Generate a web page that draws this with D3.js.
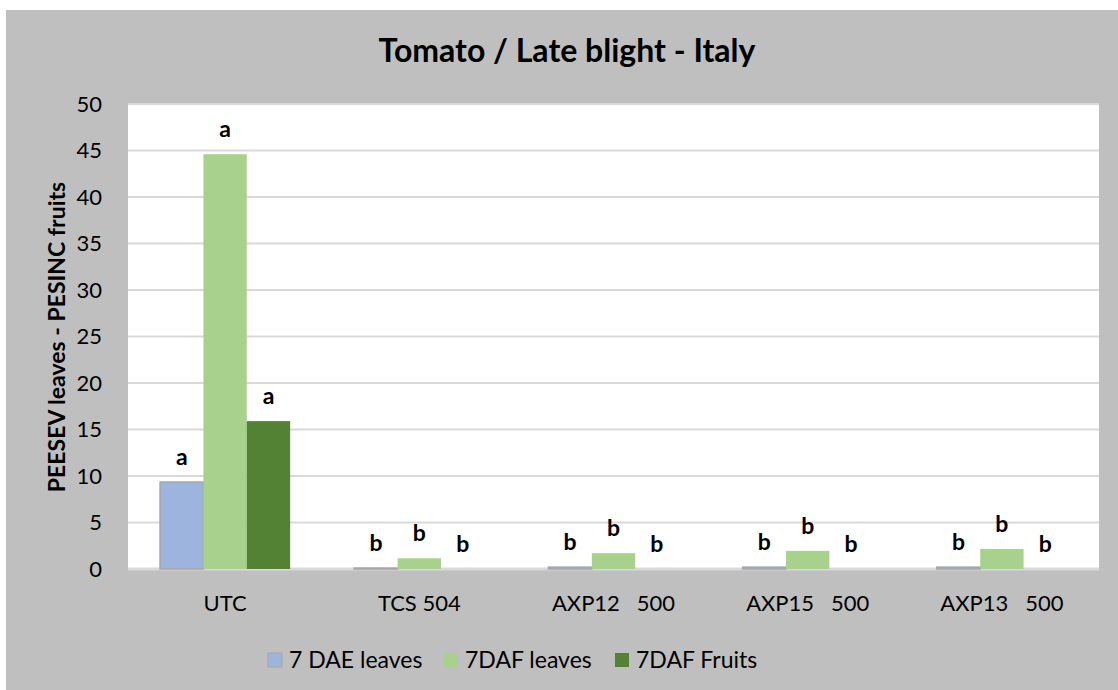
<!DOCTYPE html>
<html>
<head>
<meta charset="utf-8">
<script src="https://cdn.jsdelivr.net/npm/d3@7"></script>
<style>
  body { margin: 0; background: #fff; }
  text { font-family: Lato, "Open Sans", sans-serif; fill: #000; }
</style>
</head>
<body>
<script>
// chart data
let categories = ["UTC", "TCS 504", "AXP12   500", "AXP15   500", "AXP13   500"]
let seriesNames = ["7 DAE leaves", "7DAF leaves", "7DAF Fruits"]
let daeLeaves = [9.35, 0.1, 0.2, 0.2, 0.2]
let dafLeaves = [44.6, 1.15, 1.7, 1.95, 2.15]
let dafFruits = [15.9, 0, 0, 0, 0]
let daeLetters = ["a", "b", "b", "b", "b"]
let dafLeavesLetters = ["a", "b", "b", "b", "b"]
let dafFruitsLetters = ["a", "b", "b", "b", "b"]
let yTicks = [0, 5, 10, 15, 20, 25, 30, 35, 40, 45, 50]

let colors = ["#9cb4de", "#a9d18e", "#548235"]
let width = 1118
let height = 690

// plot area (white part)
let plotLeft = 128, plotRight = 1099, plotTop = 104, plotBottom = 569

let svg = d3.select("body").append("svg")
    .attr("width", width)
    .attr("height", height)

// gray chart background
svg.append("rect")
    .attr("x", 6).attr("y", 10)
    .attr("width", width - 6).attr("height", height - 10)
    .attr("fill", "#bfbfbf")

svg.append("rect")
    .attr("x", plotLeft).attr("y", plotTop)
    .attr("width", plotRight - plotLeft).attr("height", plotBottom - plotTop)
    .attr("fill", "#fff")

let x = d3.scaleBand()
    .domain(categories)
    .range([plotLeft, plotRight])
    .paddingInner(0.33)
    .paddingOuter(0.165)

let xs = d3.scaleBand()
    .domain(seriesNames)
    .range([0, x.bandwidth()])

let y = d3.scaleLinear()
    .domain([0, 50])
    .range([plotBottom, plotTop])

// gridlines
svg.append("g").selectAll("line")
    .data(yTicks)
    .enter()
    .append("line")
    .attr("x1", plotLeft).attr("x2", plotRight)
    .attr("y1", d => y(d)).attr("y2", d => y(d))
    .attr("stroke", "#d9d9d9")
    .attr("stroke-width", d => d == 0 ? 3 : 2)

// y axis labels
let yAxis = d3.axisLeft(y).tickValues(yTicks).tickSize(0).tickPadding(12)
let yg = svg.append("g")
    .attr("transform", `translate(${plotLeft - 14},0)`)
    .call(yAxis)
yg.select(".domain").remove()
yg.selectAll("text")
    .style("font-size", "22px")
    .style("font-family", "Lato, sans-serif")
    .attr("fill", "#000")

// x axis labels
let xAxis = d3.axisBottom(x).tickSize(0).tickPadding(26)
let xg = svg.append("g")
    .attr("transform", `translate(0,${plotBottom})`)
    .call(xAxis)
xg.select(".domain").remove()
xg.selectAll("text")
    .style("font-size", "22px")
    .style("font-family", "Lato, sans-serif")
    .style("white-space", "pre")
    .attr("fill", "#000")

// bars
let series = [daeLeaves, dafLeaves, dafFruits]
let letters = [daeLetters, dafLeavesLetters, dafFruitsLetters]

series.forEach((vals, s) => {
    let name = seriesNames[s]
    let g = svg.append("g")
    g.selectAll("rect")
        .data(vals)
        .enter()
        .append("rect")
        .attr("x", (d, i) => x(categories[i]) + xs(name))
        .attr("y", d => y(d))
        .attr("width", xs.bandwidth())
        .attr("height", d => plotBottom - y(d))
        .attr("fill", colors[s])
        .attr("stroke", s == 0 ? "#a6a6a6" : "none")
        .attr("stroke-width", 1.5)

    g.selectAll("text")
        .data(vals)
        .enter()
        .append("text")
        .attr("x", (d, i) => x(categories[i]) + xs(name) + xs.bandwidth() / 2)
        .attr("y", d => y(d) - 17)
        .attr("text-anchor", "middle")
        .style("font-size", "23px")
        .style("font-weight", "bold")
        .text((d, i) => letters[s][i])
})

// title
svg.append("text")
    .attr("x", 567).attr("y", 62)
    .attr("text-anchor", "middle")
    .style("font-size", "32px")
    .style("font-weight", "bold")
    .text("Tomato / Late blight - Italy")

// y title
svg.append("text")
    .attr("transform", "translate(65,337) rotate(-90)")
    .attr("text-anchor", "middle")
    .style("font-size", "23px")
    .style("font-weight", "bold")
    .text("PEESEV leaves - PESINC fruits")

// legend
let legendX = [268, 444, 615]
let legend = svg.append("g").selectAll("g")
    .data(seriesNames)
    .enter()
    .append("g")
    .attr("transform", (d, i) => `translate(${legendX[i]},660)`)

legend.append("rect")
    .attr("x", 0).attr("y", -7)
    .attr("width", 14).attr("height", 14)
    .attr("fill", (d, i) => colors[i])
    .attr("stroke", (d, i) => i == 0 ? "#a6a6a6" : "none")

legend.append("text")
    .attr("x", 21).attr("y", 8)
    .style("font-size", "23px")
    .text(d => d)
</script>
</body>
</html>
